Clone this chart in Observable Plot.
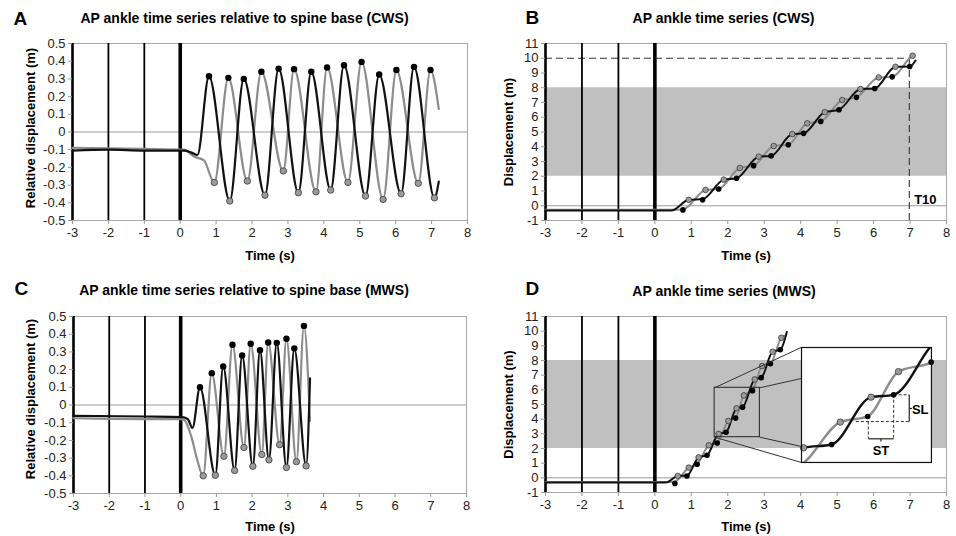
<!DOCTYPE html>
<html><head><meta charset="utf-8">
<script src="https://cdn.jsdelivr.net/npm/d3@7"></script>
<script src="https://cdn.jsdelivr.net/npm/@observablehq/plot@0.6"></script>
<style>
html,body{margin:0;padding:0;background:#fff;}
#wrap{position:relative;width:956px;height:536px;overflow:hidden;background:#fff;}
#wrap svg{position:absolute;}
</style></head><body><div id="wrap"></div>
<script>
// ---------- data ----------
const xTicks = [-3,-2,-1,0,1,2,3,4,5,6,7,8];
const relTicks = [-0.5,-0.4,-0.3,-0.2,-0.1,0,0.1,0.2,0.3,0.4,0.5];
const dispTicks = [-1,0,1,2,3,4,5,6,7,8,9,10,11];
const bandRange = [2, 8];

// Panel A: relative AP ankle (CWS)
const aBlackLine = [[-3,-0.105],[-2,-0.1],[-1,-0.105],[0.1,-0.105],[0.3,-0.115],[0.48,-0.13],[0.8,0.315],[1.38,-0.39],[1.77,0.30],[2.36,-0.357],[2.74,0.358],[3.29,-0.343],[3.65,0.34],[4.19,-0.328],[4.56,0.377],[5.16,-0.362],[5.54,0.325],[6.15,-0.349],[6.51,0.368],[7.08,-0.372],[7.2,-0.28]];
const aGrayLine = [[-3,-0.09],[-1,-0.095],[0.1,-0.1],[0.4,-0.14],[0.66,-0.16],[0.95,-0.285],[1.34,0.306],[1.87,-0.277],[2.26,0.34],[2.87,-0.22],[3.17,0.355],[3.78,-0.338],[4.09,0.364],[4.67,-0.285],[5.05,0.396],[5.65,-0.381],[6.02,0.35],[6.63,-0.29],[6.97,0.35],[7.2,0.13]];
const aPeaks = [[0.80,0.315],[1.34,0.306],[1.77,0.30],[2.26,0.34],[2.74,0.358],[3.17,0.355],[3.65,0.34],[4.09,0.364],[4.56,0.377],[5.05,0.396],[5.54,0.325],[6.02,0.35],[6.51,0.368],[6.97,0.35]];
const aTroughs = [[0.95,-0.285],[1.38,-0.39],[1.87,-0.277],[2.36,-0.357],[2.87,-0.22],[3.29,-0.343],[3.78,-0.338],[4.19,-0.328],[4.67,-0.285],[5.16,-0.362],[5.65,-0.381],[6.15,-0.349],[6.63,-0.29],[7.08,-0.372]];

// Panel B: AP ankle displacement (CWS)
const bBlackLine = [[-3,-0.32],[0.45,-0.32],[0.93,0.40],[1.31,0.45],[1.89,1.77],[2.24,1.86],[2.85,3.33],[3.19,3.38],[3.77,4.86],[4.08,4.91],[4.66,6.35],[5.05,6.51],[5.64,7.91],[6.03,7.95],[6.60,9.42],[6.99,9.44],[7.15,9.85]];
const bGrayLine = [[-3,-0.27],[0.6,-0.27],[0.77,-0.26],[1.39,1.07],[1.75,1.14],[2.33,2.56],[2.71,2.72],[3.26,4.05],[3.66,4.14],[4.18,5.59],[4.55,5.72],[5.14,7.17],[5.53,7.35],[6.14,8.70],[6.51,8.74],[7.07,10.17],[7.12,10.22]];
const bGrayDots = [[0.93,0.40],[1.39,1.07],[1.89,1.77],[2.33,2.56],[2.85,3.33],[3.26,4.05],[3.77,4.86],[4.18,5.59],[4.66,6.35],[5.14,7.17],[5.64,7.91],[6.14,8.70],[6.60,9.42],[7.07,10.17]];
const bBlackDots = [[0.77,-0.28],[1.31,0.40],[1.75,1.14],[2.24,1.86],[2.71,2.72],[3.19,3.38],[3.66,4.14],[4.08,4.91],[4.55,5.72],[5.05,6.51],[5.53,7.35],[6.03,7.95],[6.51,8.74],[6.99,9.44]];
const bT10 = 6.98;
const bTarget = 10;

// Panel C: relative AP ankle (MWS)
const cBlackLine = [[-3,-0.062],[-1,-0.065],[0.05,-0.068],[0.2,-0.08],[0.33,-0.13],[0.54,0.10],[0.97,-0.397],[1.19,0.218],[1.51,-0.37],[1.72,0.28],[2.02,-0.346],[2.22,0.31],[2.47,-0.31],[2.69,0.351],[2.96,-0.353],[3.18,0.32],[3.51,-0.344],[3.62,0.15]];
const cGrayLine = [[-3,-0.075],[-1,-0.08],[0.0,-0.08],[0.1,-0.085],[0.3,-0.18],[0.45,-0.3],[0.63,-0.40],[0.87,0.18],[1.21,-0.29],[1.45,0.34],[1.77,-0.24],[1.96,0.346],[2.27,-0.28],[2.45,0.353],[2.77,-0.224],[2.96,0.374],[3.24,-0.32],[3.45,0.447],[3.62,-0.09]];
const cPeaks = [[0.54,0.10],[0.87,0.18],[1.19,0.218],[1.45,0.34],[1.72,0.28],[1.96,0.346],[2.22,0.31],[2.45,0.353],[2.69,0.351],[2.96,0.374],[3.18,0.32],[3.45,0.447]];
const cTroughs = [[0.63,-0.40],[0.97,-0.397],[1.21,-0.29],[1.51,-0.37],[1.77,-0.24],[2.02,-0.346],[2.27,-0.28],[2.47,-0.31],[2.77,-0.224],[2.96,-0.353],[3.24,-0.32],[3.51,-0.344]];

// Panel D: AP ankle displacement (MWS)
const dBlackLine = [[-3,-0.32],[0.3,-0.32],[0.63,0.13],[0.88,0.15],[1.20,1.40],[1.43,1.54],[1.748,2.995],[1.953,3.11],[2.241,4.74],[2.406,4.82],[2.74,6.71],[2.92,6.83],[3.23,8.6],[3.44,8.73],[3.62,9.95]];
const dGrayLine = [[-3,-0.28],[0.4,-0.28],[0.55,-0.25],[0.93,0.70],[1.16,0.93],[1.48,2.22],[1.71,2.38],[2.016,3.88],[2.216,4.074],[2.441,5.62],[2.68,5.945],[2.94,7.62],[3.17,7.78],[3.47,9.55],[3.55,9.7]];
const dGrayDots = [[0.63,0.13],[0.93,0.70],[1.20,1.40],[1.48,2.22],[1.748,2.995],[2.016,3.88],[2.241,4.74],[2.441,5.62],[2.74,6.71],[2.94,7.62],[3.23,8.6],[3.47,9.55]];
const dBlackDots = [[0.55,-0.39],[0.88,0.13],[1.16,0.93],[1.43,1.54],[1.71,2.38],[1.953,3.11],[2.216,4.074],[2.406,4.82],[2.68,5.945],[2.92,6.83],[3.17,7.78],[3.44,8.73]];
const dZoomBox = [[1.64,2.88,2.77,6.14]];           // x1,x2,y1,y2
const dInsetBox = [4.015,7.58,1.05,8.89];           // x1,x2,y1,y2 (main-plot coordinates)
const dConnectors = [[1.64,6.14,4.015,8.89],[2.88,6.14,4.015,6.77],[1.64,2.77,4.015,1.05],[2.88,2.77,4.015,2.14]];
const insetX = [1.733, 2.682];
const insetY = [2.49, 6.45];
const slstDashed = [[2.13,3.90,2.52,3.90],[2.406,4.82,2.52,4.82],[2.221,3.90,2.221,3.305],[2.406,4.82,2.406,3.305]];
const slstSolid = [[2.52,3.90,2.52,4.82],[2.52,4.35,2.54,4.35],[2.221,3.305,2.406,3.305],[2.313,3.305,2.313,3.21]];
const slstLabels = [[2.60,4.32,"SL"],[2.313,2.90,"ST"]];

// ---------- helpers ----------
const FONT = "'Liberation Sans', Arial, Helvetica, sans-serif";
const X = d => d[0], Y = d => d[1];
const BLACK = "#111", GRAY = "#8c8c8c";

function panel(cfg) {
  return Plot.plot({
    width: 478, height: 268,
    marginLeft: cfg.ml, marginRight: cfg.mr, marginTop: cfg.mt, marginBottom: cfg.mb,
    style: {fontFamily: FONT, fontSize: "13px", background: "white", color: "#222", overflow: "visible"},
    x: {domain: [-3, 8], label: null},
    y: {domain: cfg.yDomain, label: null},
    marks: [
      ...(cfg.under || []),
      Plot.frame({stroke: "#a8a8a8", strokeWidth: 1}),
      Plot.ruleY([0], {stroke: "#9a9a9a", strokeWidth: 1}),
      ...(cfg.guides || []),
      Plot.ruleX([-3], {stroke: "#000", strokeWidth: 2.6}),
      Plot.ruleX([-2, -1], {stroke: "#000", strokeWidth: 1.8}),
      Plot.ruleX([0], {stroke: "#000", strokeWidth: 3.6}),
      ...cfg.marks,
      Plot.axisX({ticks: xTicks, tickFormat: d => String(d), tickSize: 4, tickPadding: 3, stroke: "#999", fill: "#222", fontSize: 13, label: null}),
      Plot.axisY({ticks: cfg.yTicks, tickFormat: cfg.fmt, tickSize: 4, tickPadding: 3, stroke: "#999", fill: "#222", fontSize: 13, label: null}),
      Plot.text([cfg.letter], {text: d => d, frameAnchor: "top-left", dx: cfg.letterDx, dy: cfg.letterDy, textAnchor: "start", lineAnchor: "middle", fontSize: 19, fontWeight: "bold", fill: "#000"}),
      Plot.text([cfg.title], {text: d => d, frameAnchor: "top-left", dx: cfg.titleDx, dy: cfg.titleDy, textAnchor: "middle", lineAnchor: "middle", fontSize: 14, fontWeight: "bold", fill: "#000"}),
      Plot.text(["Time (s)"], {text: d => d, frameAnchor: "bottom", dy: cfg.xlabDy, lineAnchor: "middle", fontSize: 13, fontWeight: "bold", fill: "#000"}),
      Plot.text([cfg.ylabel], {text: d => d, frameAnchor: "left", dx: cfg.ylabDx, dy: cfg.ylabDy, rotate: -90, textAnchor: "middle", lineAnchor: "middle", fontSize: 13, fontWeight: "bold", fill: "#000"})
    ]
  });
}

const relFmt = d => Math.abs(d) < 1e-9 ? "0" : d.toFixed(1);
const intFmt = d => String(d);

function seriesMarks(black, gray, blackDots, grayDots, lw, r) {
  return [
    Plot.line(gray, {x: X, y: Y, stroke: GRAY, strokeWidth: lw, curve: "monotone-x"}),
    Plot.line(black, {x: X, y: Y, stroke: BLACK, strokeWidth: lw, curve: "monotone-x"}),
    Plot.dot(grayDots, {x: X, y: Y, r: r, fill: "#9a9a9a", stroke: "#3a3a3a", strokeWidth: 0.8}),
    Plot.dot(blackDots, {x: X, y: Y, r: r, fill: "#000"})
  ];
}

const band = [Plot.rect([bandRange], {x1: () => -3, x2: () => 8, y1: d => d[0], y2: d => d[1], fill: "#c0c0c0"})];

const pA = panel({
  ml: 72, mr: 11, mt: 43, mb: 48, yDomain: [-0.5, 0.5], yTicks: relTicks, fmt: relFmt,
  letter: "A", letterDx: -59, letterDy: -25,
  title: "AP ankle time series relative to spine base (CWS)", titleDx: 172, titleDy: -25,
  xlabDy: 35, ylabel: "Relative displacement (m)", ylabDx: -42, ylabDy: -4,
  marks: seriesMarks(aBlackLine, aGrayLine, aPeaks, aTroughs, 2.2, 3.2)
});

const pB = panel({
  ml: 67, mr: 10, mt: 43, mb: 48, yDomain: [-1, 11], yTicks: dispTicks, fmt: intFmt,
  letter: "B", letterDx: -20, letterDy: -26,
  title: "AP ankle time series (CWS)", titleDx: 178, titleDy: -25,
  xlabDy: 35, ylabel: "Displacement (m)", ylabDx: -37, ylabDy: 0,
  under: band,
  guides: [
    Plot.ruleY([bTarget], {x1: -3, x2: bT10, stroke: "#333", strokeWidth: 1.1, strokeDasharray: "7,4"}),
    Plot.ruleX([bT10], {y1: -1, y2: bTarget, stroke: "#333", strokeWidth: 1.1, strokeDasharray: "7,4"})
  ],
  marks: [
    ...seriesMarks(bBlackLine, bGrayLine, bBlackDots, bGrayDots, 2, 2.8),
    Plot.text([[7.42, 0.42, "T10"]], {x: X, y: Y, text: d => d[2], fontSize: 13, fontWeight: "bold", fill: "#000"})
  ]
});

const pC = panel({
  ml: 73, mr: 12, mt: 48, mb: 43, yDomain: [-0.5, 0.5], yTicks: relTicks, fmt: relFmt,
  letter: "C", letterDx: -59, letterDy: -28,
  title: "AP ankle time series relative to spine base (MWS)", titleDx: 170.5, titleDy: -25.5,
  xlabDy: 33, ylabel: "Relative displacement (m)", ylabDx: -43, ylabDy: -6,
  marks: seriesMarks(cBlackLine, cGrayLine, cPeaks, cTroughs, 2.2, 3.2)
});

const pD = panel({
  ml: 67, mr: 10, mt: 48, mb: 44, yDomain: [-1, 11], yTicks: dispTicks, fmt: intFmt,
  letter: "D", letterDx: -20, letterDy: -28,
  title: "AP ankle time series (MWS)", titleDx: 178.5, titleDy: -24.7,
  xlabDy: 34, ylabel: "Displacement (m)", ylabDx: -37, ylabDy: 0,
  under: band,
  marks: [
    ...seriesMarks(dBlackLine, dGrayLine, dBlackDots, dGrayDots, 2, 2.8),
    Plot.rect(dZoomBox, {x1: d => d[0], x2: d => d[1], y1: d => d[2], y2: d => d[3], fill: "none", stroke: "#222", strokeWidth: 1}),
    Plot.link(dConnectors, {x1: d => d[0], y1: d => d[1], x2: d => d[2], y2: d => d[3], stroke: "#333", strokeWidth: 1})
  ]
});

const wrap = document.getElementById("wrap");
[[pA, 0, 0], [pB, 478, 0], [pC, 0, 268], [pD, 478, 268]].forEach(([p, l, t]) => {
  p.style.left = l + "px"; p.style.top = t + "px"; wrap.appendChild(p);
});

// Inset placed using panel D's own scales
const sx = pD.scale("x"), sy = pD.scale("y");
const iL = sx.apply(dInsetBox[0]), iR = sx.apply(dInsetBox[1]);
const iT = sy.apply(dInsetBox[3]), iB = sy.apply(dInsetBox[2]);
const inWindow = d => d[0] >= insetX[0] && d[0] <= insetX[1] && d[1] >= insetY[0] && d[1] <= insetY[1];
const inset = Plot.plot({
  width: iR - iL, height: iB - iT, margin: 0,
  style: {fontFamily: FONT, background: "white", overflow: "visible"},
  x: {domain: insetX, axis: null},
  y: {domain: insetY, axis: null},
  marks: [
    Plot.line(dGrayLine, {x: X, y: Y, stroke: GRAY, strokeWidth: 2.4, curve: "monotone-x", clip: true}),
    Plot.line(dBlackLine, {x: X, y: Y, stroke: BLACK, strokeWidth: 2.4, curve: "monotone-x", clip: true}),
    Plot.link(slstDashed, {x1: d => d[0], y1: d => d[1], x2: d => d[2], y2: d => d[3], stroke: "#333", strokeWidth: 1, strokeDasharray: "3,2"}),
    Plot.link(slstSolid, {x1: d => d[0], y1: d => d[1], x2: d => d[2], y2: d => d[3], stroke: "#222", strokeWidth: 1.2}),
    Plot.dot(dGrayDots, {filter: inWindow, x: X, y: Y, r: 3.2, fill: "#9a9a9a", stroke: "#3a3a3a", strokeWidth: 0.8}),
    Plot.dot(dBlackDots, {filter: inWindow, x: X, y: Y, r: 2.8, fill: "#000"}),
    Plot.text(slstLabels, {x: X, y: Y, text: d => d[2], fontSize: 13, fontWeight: "bold", fill: "#000"}),
    Plot.frame({stroke: "#111", strokeWidth: 1.2})
  ]
});
inset.style.left = (478 + iL) + "px";
inset.style.top = (268 + iT) + "px";
wrap.appendChild(inset);
</script></body></html>
